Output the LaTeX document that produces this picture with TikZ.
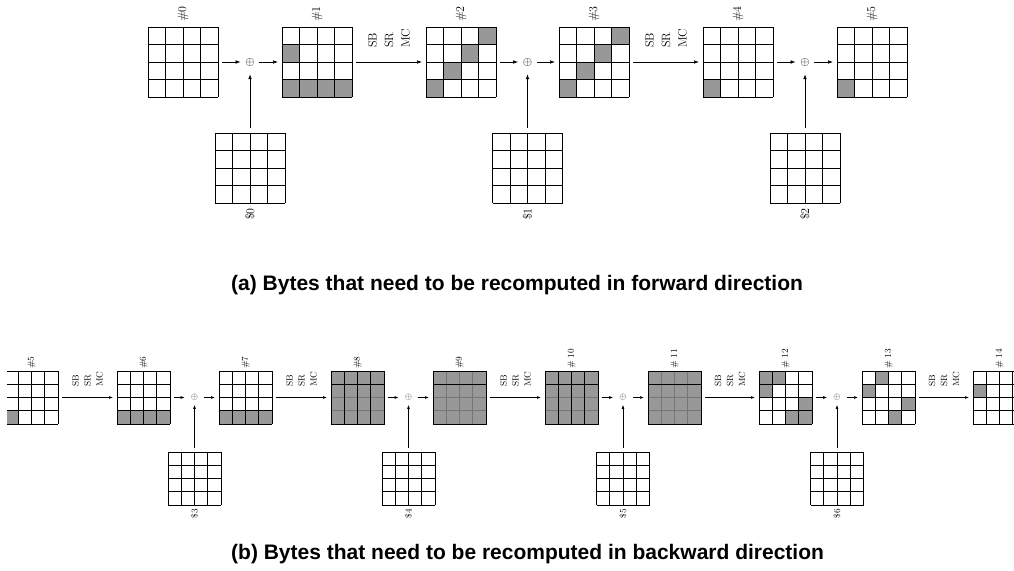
\documentclass[tikz,border=0pt]{standalone}
\usepackage{fontspec}
\newfontfamily\capfont{Liberation Sans}
\usetikzlibrary{calc,arrows.meta}

\definecolor{cellgray}{RGB}{152,152,152}
\definecolor{linegray}{RGB}{118,118,118}

\tikzset{
  gridnode/.style={draw=none,inner sep=0pt,outer sep=0pt,anchor=north west},
  gridline/.style={draw=black,line width=\gridlw},
  cellfill/.style={fill=cellgray},
  toplab/.style={rotate=90,anchor=west,inner sep=0pt,font=\fontsize{12}{14}\selectfont},
  botlab/.style={rotate=90,anchor=west,inner sep=0pt,font=\fontsize{9}{11}\selectfont},
  topops/.style={rotate=90,anchor=west,inner sep=0pt,align=left,font=\fontsize{12}{16.5}\selectfont},
  botops/.style={rotate=90,anchor=west,inner sep=0pt,align=left,font=\fontsize{9}{12}\selectfont},
  topxor/.style={inner xsep=4.5pt,inner ysep=8pt,font=\fontsize{12}{14}\selectfont},
  botxor/.style={inner xsep=6pt,inner ysep=4pt,font=\fontsize{9}{11}\selectfont,text=black!75},
  toparr/.style={-{Latex[length=5pt,width=3.6pt]},line width=0.7pt},
  botarr/.style={-{Latex[length=4pt,width=2.8pt]},line width=0.6pt},
  caption/.style={anchor=base west,inner sep=0pt,font=\capfont\bfseries\fontsize{21}{25}\selectfont}
}

% a 4x4 state: name, left, top, cell size
\newcommand\placegrid[4]{\node[gridnode,minimum size={4*#4}] (#1) at (#2,#3) {};}
% shaded cells of a state: name, cell size, list of row/column
\newcommand\cellson[3]{%
  \foreach \r/\c in {#3}
    \fill[cellfill] ($(#1.north west)+({(\c-1)*#2},{(\r-1)*#2})$) rectangle ++(#2,#2);}
% the 4x4 lines of a state: name, cell size
\newcommand\gridlines[2]{%
  \foreach \i in {0,...,4} {
    \draw[gridline] ($(#1.north west)+({\i*#2},0)$) -- ++(0,{4*#2});
    \draw[gridline] ($(#1.north west)+(0,{\i*#2})$) -- ++({4*#2},0);}}
% a fully shaded state: name, cell size, colour of the inner vertical lines
\newcommand\fullgrid[3]{%
  \fill[cellfill] (#1.north west) rectangle (#1.south east);
  \foreach \i in {2,3}
    \draw[gridline,draw=linegray] ($(#1.north west)+(0,{\i*#2})$) -- ++({4*#2},0);
  \foreach \i in {1,2,3}
    \draw[gridline,draw=#3] ($(#1.north west)+({\i*#2},0)$) -- ++(0,{4*#2});
  \draw[gridline] ($(#1.north west)+(0,#2)$) -- ++({4*#2},0);
  \draw[gridline] (#1.north west) rectangle (#1.south east);}

\begin{document}
\begin{tikzpicture}[x=1pt,y=-1pt]
\useasboundingbox (0,0) rectangle (1014,570);

% ---------------- forward direction ----------------
\def\gridlw{1pt}
\def\cs{17.5}
\placegrid{g0}{148}{27}{\cs}
\placegrid{g1}{282}{27}{\cs}
\placegrid{g2}{426}{27}{\cs}
\placegrid{g3}{559}{27}{\cs}
\placegrid{g4}{703}{27}{\cs}
\placegrid{g5}{837}{27}{\cs}
\placegrid{k0}{215}{133}{\cs}
\placegrid{k1}{492.5}{133}{\cs}
\placegrid{k2}{770}{133}{\cs}

\cellson{g1}{\cs}{2/1,4/1,4/2,4/3,4/4}
\cellson{g2}{\cs}{1/4,2/3,3/2,4/1}
\cellson{g3}{\cs}{1/4,2/3,3/2,4/1}
\cellson{g4}{\cs}{4/1}
\cellson{g5}{\cs}{4/1}
\foreach \g in {g0,g1,g2,g3,g4,g5,k0,k1,k2} {\gridlines{\g}{\cs}}

\foreach \g/\t in {g0/0,g1/1,g2/2,g3/3,g4/4,g5/5}
  \node[toplab] at ($(\g.north)+(0,-5)$) {\#\t};
\foreach \g/\t in {k0/0,k1/1,k2/2}
  \node[toplab,anchor=east] at ($(\g.south)+(0,5)$) {\$\t};

\node[topxor] (x0) at (250,62) {$\oplus$};
\node[topxor] (x1) at (527.5,62) {$\oplus$};
\node[topxor] (x2) at (805,62) {$\oplus$};

\foreach \a/\x/\b/\k in {g0/x0/g1/k0,g2/x1/g3/k1,g4/x2/g5/k2} {
  \draw[toparr,shorten <=4pt] (\a.east) -- (\x.west);
  \draw[toparr,shorten >=4pt] (\x.east) -- (\b.west);
  \draw[toparr,shorten <=5pt] (\k.north) -- (\x.south);
}
\foreach \a/\b in {g1/g2,g3/g4} {
  \draw[toparr,shorten <=4pt,shorten >=4pt] (\a.east) -- (\b.west);
  \node[topops] at ($(\a.east)!0.5!(\b.west)+(0,-14)$) {SB\\SR\\MC};
}

\node[caption] (capa) at (231,290) {(a) Bytes that need to be recomputed in forward direction};

% ---------------- backward direction ----------------
\begin{scope}
\clip (7,300) rectangle (1014,570);
\def\gridlw{0.85pt}
\def\cs{13.25}
\placegrid{h5}{5}{371}{\cs}
\placegrid{h6}{117}{371}{\cs}
\placegrid{h7}{219}{371}{\cs}
\placegrid{h8}{331}{371}{\cs}
\placegrid{h9}{433}{371}{\cs}
\placegrid{h10}{545}{371}{\cs}
\placegrid{h11}{648}{371}{\cs}
\placegrid{h12}{759}{371}{\cs}
\placegrid{h13}{862}{371}{\cs}
\placegrid{h14}{973}{371}{\cs}
\placegrid{k3}{168}{452}{\cs}
\placegrid{k4}{382}{452}{\cs}
\placegrid{k5}{596.5}{452}{\cs}
\placegrid{k6}{810.5}{452}{\cs}

\cellson{h5}{\cs}{4/1}
\cellson{h6}{\cs}{4/1,4/2,4/3,4/4}
\cellson{h7}{\cs}{4/1,4/2,4/3,4/4}
\cellson{h12}{\cs}{1/1,1/2,2/1,3/4,4/3,4/4}
\cellson{h13}{\cs}{1/2,2/1,3/4,4/3}
\cellson{h14}{\cs}{2/1}
\foreach \g in {h5,h6,h7,h12,h13,h14,k3,k4,k5,k6} {\gridlines{\g}{\cs}}
\fullgrid{h8}{\cs}{black}
\fullgrid{h9}{\cs}{linegray}
\fullgrid{h10}{\cs}{black}
\fullgrid{h11}{\cs}{linegray}

\foreach \g/\t in {h5/\#5,h6/\#6,h7/\#7,h8/\#8,h9/\#9,h10/\# 10,h11/\# 11,h12/\# 12,h13/\# 13,h14/\# 14}
  \node[botlab] at ($(\g.north)+(0,-2)$) {\t};
\foreach \g/\t in {k3/3,k4/4,k5/5,k6/6}
  \node[botlab,anchor=east] at ($(\g.south)+(0,4)$) {\$\t};

\node[botxor] (x3) at (194.5,397.5) {$\oplus$};
\node[botxor] (x4) at (408.5,397.5) {$\oplus$};
\node[botxor] (x5) at (623,397.5) {$\oplus$};
\node[botxor] (x6) at (837,397.5) {$\oplus$};

\foreach \a/\x/\b/\k in {h6/x3/h7/k3,h8/x4/h9/k4,h10/x5/h11/k5,h12/x6/h13/k6} {
  \draw[botarr,shorten <=4pt] (\a.east) -- (\x.west);
  \draw[botarr,shorten >=4pt] (\x.east) -- (\b.west);
  \draw[botarr,shorten <=4pt] (\k.north) -- (\x.south);
}
\foreach \a/\b in {h5/h6,h7/h8,h9/h10,h11/h12,h13/h14} {
  \draw[botarr,shorten <=4pt,shorten >=4pt] (\a.east) -- (\b.west);
  \node[botops] at ($(\a.east)!0.5!(\b.west)+(0,-10.5)$) {SB\\SR\\MC};
}
\end{scope}

\node[caption] (capb) at (231,559) {(b) Bytes that need to be recomputed in backward direction};
\end{tikzpicture}
\end{document}
